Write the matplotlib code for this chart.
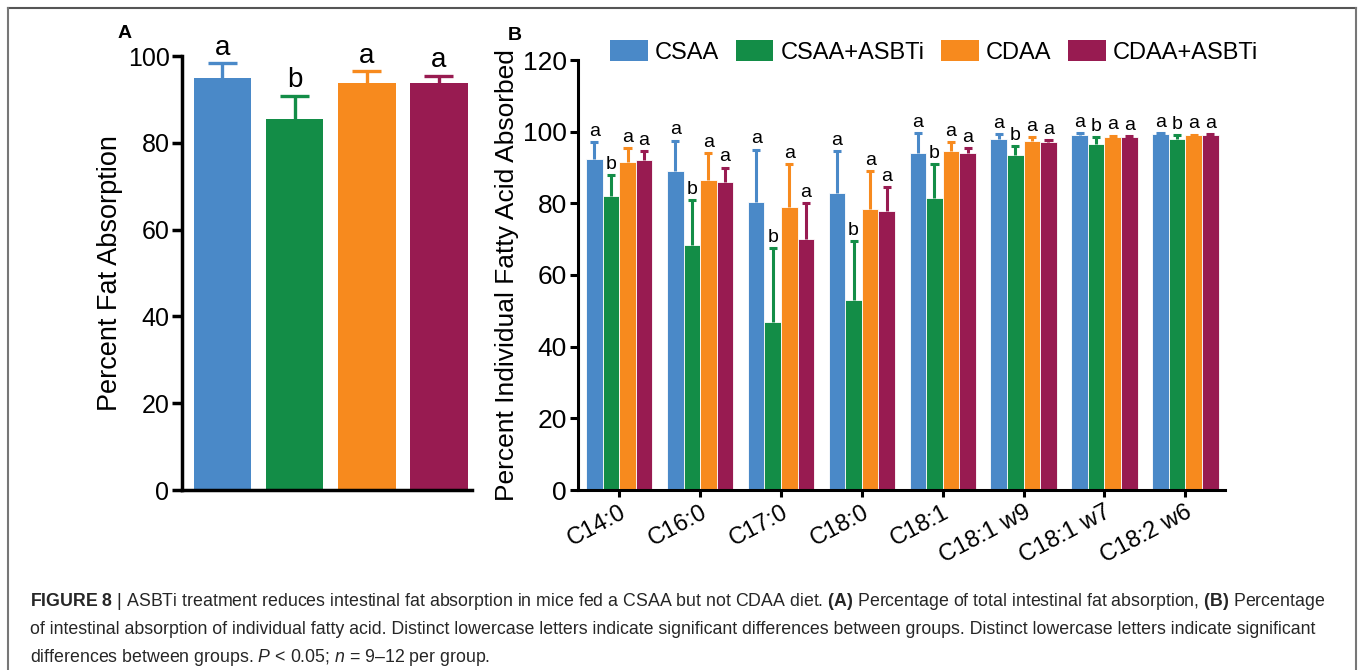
import matplotlib
matplotlib.use("Agg")
import matplotlib.pyplot as plt
from matplotlib.patches import Patch
from matplotlib.lines import Line2D

plt.rcParams['font.family'] = ['Liberation Sans', 'DejaVu Sans']

# ---- data ----
groups = ['CSAA', 'CSAA+ASBTi', 'CDAA', 'CDAA+ASBTi']
colors = ['#4a89c8', '#138d47', '#f78a1e', '#981b51']

# panel A: total fat absorption
fat_mean = [95.0, 85.5, 93.8, 93.8]
fat_err = [3.3, 5.3, 2.7, 1.6]
fat_letters = ['a', 'b', 'a', 'a']

# panel B: individual fatty acids
acids = ['C14:0', 'C16:0', 'C17:0', 'C18:0', 'C18:1', 'C18:1 w9', 'C18:1 w7', 'C18:2 w6']
csaa = [92.5, 89.0, 80.5, 83.0, 94.0, 98.0, 99.0, 99.3]
csaa_err = [4.5, 8.5, 14.5, 11.5, 5.5, 1.3, 0.5, 0.3]
csaa_asbti = [82.0, 68.5, 47.0, 53.0, 81.5, 93.5, 96.5, 98.0]
csaa_asbti_err = [6.0, 12.5, 20.5, 16.5, 9.5, 2.5, 2.0, 1.0]
cdaa = [91.5, 86.5, 79.0, 78.5, 94.5, 97.5, 98.5, 99.0]
cdaa_err = [4.0, 7.5, 12.0, 10.5, 2.5, 1.0, 0.4, 0.2]
cdaa_asbti = [92.0, 86.0, 70.0, 78.0, 94.0, 97.0, 98.5, 99.2]
cdaa_asbti_err = [2.5, 4.0, 10.0, 6.5, 1.5, 0.6, 0.3, 0.2]
letters_b = [['a'] * 8, ['b'] * 8, ['a'] * 8, ['a'] * 8]

fig = plt.figure(figsize=(13.58, 6.70), dpi=100)

# outer frame
fig.add_artist(Line2D([8/1358, 1356/1358], [1-8/670, 1-8/670], color='#555555', lw=1.5, transform=fig.transFigure))
fig.add_artist(Line2D([8/1358, 8/1358], [0, 1-8/670], color='#777777', lw=1.5, transform=fig.transFigure))
fig.add_artist(Line2D([1356/1358, 1356/1358], [0, 1-8/670], color='#777777', lw=1.5, transform=fig.transFigure))

# ---- panel A ----
axA = fig.add_axes([182/1358, 1-490/670, 290/1358, 434/670])
xa = range(len(groups))
axA.bar(xa, fat_mean, width=0.8, color=colors)
for i in xa:
    top = fat_mean[i] + fat_err[i]
    axA.vlines(i, fat_mean[i], top, color=colors[i], lw=2.4)
    axA.hlines(top, i - 0.2, i + 0.2, color=colors[i], lw=2.4)
    axA.text(i, top + 0.6, fat_letters[i], ha='center', va='bottom', fontsize=20)
axA.set_xlim(-0.56, 3.46)
axA.set_ylim(0, 100)
axA.set_yticks([0, 20, 40, 60, 80, 100])
axA.set_xticks([])
axA.set_ylabel('Percent Fat Absorption', fontsize=19.5, labelpad=3)
for s in ['top', 'right']:
    axA.spines[s].set_visible(False)
for s in ['left', 'bottom']:
    axA.spines[s].set_linewidth(2.5)
axA.tick_params(axis='y', labelsize=18, width=2.5, length=7, pad=2)
fig.text(125/1358, 1-33/670, 'A', fontsize=14, fontweight='bold', ha='center', va='center')

# ---- panel B ----
axB = fig.add_axes([578/1358, 1-490/670, 647/1358, 430/670])
series = [csaa, csaa_asbti, cdaa, cdaa_asbti]
errs = [csaa_err, csaa_asbti_err, cdaa_err, cdaa_asbti_err]
w = 0.205
xb = list(range(len(acids)))
for k in range(4):
    pos = [x + (k - 1.5) * w for x in xb]
    axB.bar(pos, series[k], width=w, color=colors[k], edgecolor='white', linewidth=0.6)
    tops = [m + e for m, e in zip(series[k], errs[k])]
    axB.vlines(pos, series[k], tops, color=colors[k], lw=2.2)
    axB.hlines(tops, [p - 0.05 for p in pos], [p + 0.05 for p in pos], color=colors[k], lw=2.2)
    for j in xb:
        axB.text(pos[j], tops[j] + 0.6, letters_b[k][j],
                 ha='center', va='bottom', fontsize=14)
axB.set_xlim(-0.51, 7.49)
axB.set_ylim(0, 120)
axB.set_yticks([0, 20, 40, 60, 80, 100, 120])
axB.set_xticks(xb)
axB.set_xticklabels(acids, rotation=28, ha='right', rotation_mode='anchor', fontsize=17)
axB.set_ylabel('Percent Individual Fatty Acid Absorbed', fontsize=19, labelpad=3)
for s in ['top', 'right']:
    axB.spines[s].set_visible(False)
for s in ['left', 'bottom']:
    axB.spines[s].set_linewidth(2.2)
axB.tick_params(axis='y', labelsize=19, width=2.2, length=6, pad=2)
axB.tick_params(axis='x', width=2.2, length=5, pad=3)
fig.text(515/1358, 1-35/670, 'B', fontsize=14, fontweight='bold', ha='center', va='center')

handles = [Patch(facecolor=c) for c in colors]
fig.legend(handles, groups, loc='center', bbox_to_anchor=(934/1358, 1-52/670), ncol=4,
           frameon=False, fontsize=17, handlelength=1.6, handleheight=0.95,
           handletextpad=0.3, columnspacing=0.7)

# ---- caption ----
plt.rcParams['mathtext.fontset'] = 'custom'
plt.rcParams['mathtext.rm'] = 'Liberation Sans'
plt.rcParams['mathtext.bf'] = 'Liberation Sans:bold'
plt.rcParams['mathtext.it'] = 'Liberation Sans:italic'
cap = [
    r"$\mathbf{FIGURE\ 8}$ | ASBTi treatment reduces intestinal fat absorption in mice fed a CSAA but not CDAA diet. $\mathbf{(A)}$ Percentage of total intestinal fat absorption, $\mathbf{(B)}$ Percentage",
    "of intestinal absorption of individual fatty acid. Distinct lowercase letters indicate significant differences between groups. Distinct lowercase letters indicate significant",
    r"differences between groups. $P$ < 0.05; $n$ = 9–12 per group.",
]
for i, line in enumerate(cap):
    fig.text(30/1358, 1-(601 + 28*i)/670, line, fontsize=12.8, color='#262626',
             ha='left', va='center')

fig.savefig('out.png', dpi=100)
